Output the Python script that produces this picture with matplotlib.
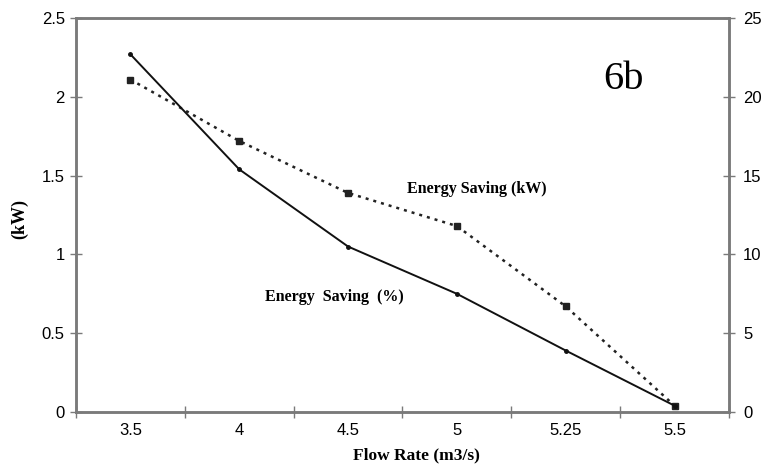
import numpy as np
import matplotlib.pyplot as plt

# Data
flow_rate = ["3.5", "4", "4.5", "5", "5.25", "5.5"]
saving_kw = [2.11, 1.72, 1.39, 1.18, 0.67, 0.04]
saving_pct = [22.7, 15.4, 10.5, 7.5, 3.9, 0.4]

left_ticks = [0, 0.5, 1, 1.5, 2, 2.5]
left_labels = ["0", "0.5", "1", "1.5", "2", "2.5"]
right_ticks = [0, 5, 10, 15, 20, 25]

spine_col = "#7a7a7a"
serif = ["Liberation Serif", "DejaVu Serif"]
sans = ["Liberation Sans", "DejaVu Sans"]

fig = plt.figure(figsize=(7.69, 4.75), dpi=100)
ax = fig.add_axes([0.0988, 0.1326, 0.8492, 0.8294])
ax2 = ax.twinx()

x = np.arange(len(flow_rate))

# kW on the left axis (dotted, square markers)
ax.plot(x, saving_kw, color="#222222", linestyle=(0, (1.2, 2.0)), linewidth=1.8,
        marker="s", markersize=4, zorder=3)
# % on the right axis (solid, small dot markers)
ax2.plot(x, saving_pct, color="#111111", linestyle="-", linewidth=1.4,
         marker="o", markersize=2.5, zorder=3)

ax.set_xlim(-0.5, len(flow_rate) - 0.5)
ax.set_ylim(0, 2.5)
ax2.set_ylim(0, 25)

# category axis: tick marks on boundaries, labels at centres
ax.set_xticks(np.arange(-0.5, len(flow_rate)), minor=False)
ax.set_xticklabels([])
ax.set_xticks(x, minor=True)
ax.set_xticklabels(flow_rate, minor=True, fontfamily=sans, fontsize=12)
ax.tick_params(axis="x", which="minor", length=0, pad=8)
ax.tick_params(axis="x", which="major", direction="inout", length=8,
               color=spine_col, width=1)

ax.set_yticks(left_ticks)
ax.set_yticklabels(left_labels, fontfamily=sans, fontsize=12)
ax.tick_params(axis="y", direction="inout", length=8, color=spine_col, width=1, pad=4)

ax2.set_yticks(right_ticks)
ax2.set_yticklabels([str(t) for t in right_ticks], fontfamily=sans, fontsize=12)
ax2.tick_params(axis="y", direction="inout", length=8, color=spine_col, width=1, pad=6)

for a in (ax, ax2):
    for side in ("left", "right", "bottom", "top"):
        a.spines[side].set_color(spine_col)
        a.spines[side].set_linewidth(1.8)

# axis titles placed where the scan shows them
ax.text(0.522, -0.109, "Flow Rate (m3/s)", transform=ax.transAxes, fontfamily=serif,
        fontweight="bold", fontsize=12.5, ha="center", va="center")
ax.text(-0.086, 0.49, "(kW)", transform=ax.transAxes, fontfamily=serif,
        fontweight="bold", fontsize=13, ha="center", va="center", rotation=90)

ax.text(0.839, 0.843, "6b", transform=ax.transAxes, fontfamily=serif, fontsize=29,
        ha="center", va="center")
ax.text(0.614, 0.566, "Energy Saving (kW)", transform=ax.transAxes, fontfamily=serif,
        fontweight="bold", fontsize=11.5, ha="center", va="center")
ax.text(0.395, 0.292, "Energy  Saving  (%)", transform=ax.transAxes, fontfamily=serif,
        fontweight="bold", fontsize=11.5, ha="center", va="center")

fig.savefig("out.png", dpi=100)
